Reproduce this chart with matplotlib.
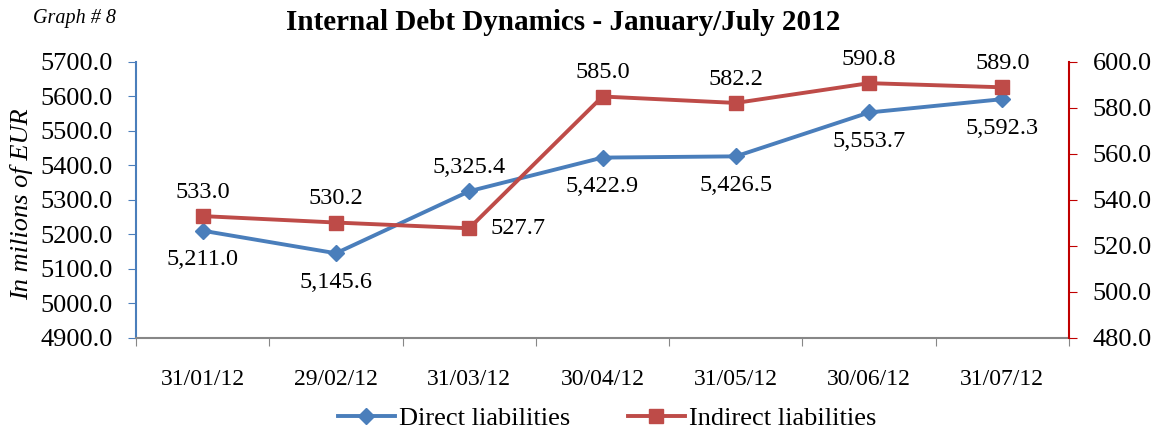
import matplotlib.pyplot as plt
import numpy as np

dates = ['31/01/12', '29/02/12', '31/03/12', '30/04/12', '31/05/12', '30/06/12', '31/07/12']
direct = [5211.0, 5145.6, 5325.4, 5422.9, 5426.5, 5553.7, 5592.3]
indirect = [533.0, 530.2, 527.7, 585.0, 582.2, 590.8, 589.0]

# where to put each data label relative to its point
direct_pos = ['below', 'below', 'above', 'below', 'below', 'below', 'below']
indirect_pos = ['above', 'above', 'right', 'above', 'above', 'above', 'above']

plt.rcParams['font.family'] = ['Liberation Serif', 'DejaVu Serif']

blue = '#4A7EBB'
red = '#BE4B48'

fig = plt.figure(figsize=(11.62, 4.34), dpi=100)
ax = fig.add_axes([136 / 1162, 1 - 338 / 434, (1069 - 136) / 1162, (338 - 62) / 434])
ax2 = ax.twinx()

x = np.arange(len(dates))
ax.plot(x, direct, color=blue, lw=2.8, marker='D', ms=8.5, mec=blue, mfc=blue, zorder=3)
ax2.plot(x, indirect, color=red, lw=2.8, marker='s', ms=10.5, mec=red, mfc=red, zorder=3)

ax.set_ylim(4900, 5700)
ax.set_yticks(np.arange(4900, 5701, 100))
ax.set_yticklabels(['%.1f' % v for v in np.arange(4900, 5701, 100)])
ax2.set_ylim(480, 600)
ax2.set_yticks(np.arange(480, 601, 20))
ax2.set_yticklabels(['%.1f' % v for v in np.arange(480, 601, 20)])

ax.set_xlim(-0.5, 6.5)
ax.set_xticks(np.arange(-0.5, 7, 1))
ax.set_xticklabels([])
ax.set_xticks(x, minor=True)
ax.set_xticklabels(dates, minor=True)
ax.tick_params(axis='x', which='minor', length=0, labelsize=17, pad=22)
ax.tick_params(axis='x', which='major', length=6, color='#878787', direction='out')

ax.tick_params(axis='y', labelsize=19, length=6, color=blue, direction='out', pad=11)
ax2.tick_params(axis='y', labelsize=19, length=6, color='#C00000', direction='out', pad=11)

for a in (ax, ax2):
    a.spines['top'].set_visible(False)
ax.spines['left'].set_color(blue)
ax.spines['left'].set_linewidth(1.5)
ax.spines['right'].set_visible(False)
ax.spines['bottom'].set_color('#878787')
ax.spines['bottom'].set_linewidth(1.5)
ax2.spines['left'].set_visible(False)
ax2.spines['bottom'].set_visible(False)
ax2.spines['right'].set_color('#C00000')
ax2.spines['right'].set_linewidth(1.5)

offsets = {'above': (0, 17, 'center'), 'below': (0, -21, 'center'), 'right': (15, 0, 'left')}
for xi, v, p in zip(x, direct, direct_pos):
    dx, dy, ha = offsets[p]
    ax.annotate('{:,.1f}'.format(v), (xi, v), xytext=(dx, dy), textcoords='offset points',
                ha=ha, va='center', fontsize=17.5)
for xi, v, p in zip(x, indirect, indirect_pos):
    dx, dy, ha = offsets[p]
    ax2.annotate('{:.1f}'.format(v), (xi, v), xytext=(dx, dy), textcoords='offset points',
                 ha=ha, va='center', fontsize=17.5)

fig.text(22 / 1162, 1 - 204 / 434, 'In milions of EUR', rotation=90, ha='center', va='center',
         fontsize=19, style='italic')

fig.text(563 / 1162, 1 - 22 / 434, 'Internal Debt Dynamics - January/July 2012',
         ha='center', va='center', fontsize=21, fontweight='bold')
fig.text(33 / 1162, 1 - 18 / 434, 'Graph # 8', ha='left', va='center', fontsize=14.5, style='italic')

h1, = ax.plot([], [], color=blue, lw=2.8, marker='D', ms=8.5)
h2, = ax.plot([], [], color=red, lw=2.8, marker='s', ms=10.5)
fig.legend([h1, h2], ['Direct liabilities', 'Indirect liabilities'], loc='center',
           bbox_to_anchor=(607 / 1162, 1 - 418 / 434), ncol=2, frameon=False, fontsize=19,
           handlelength=2.15, columnspacing=2.2, handletextpad=0.15)

fig.savefig('out.png', dpi=100)
